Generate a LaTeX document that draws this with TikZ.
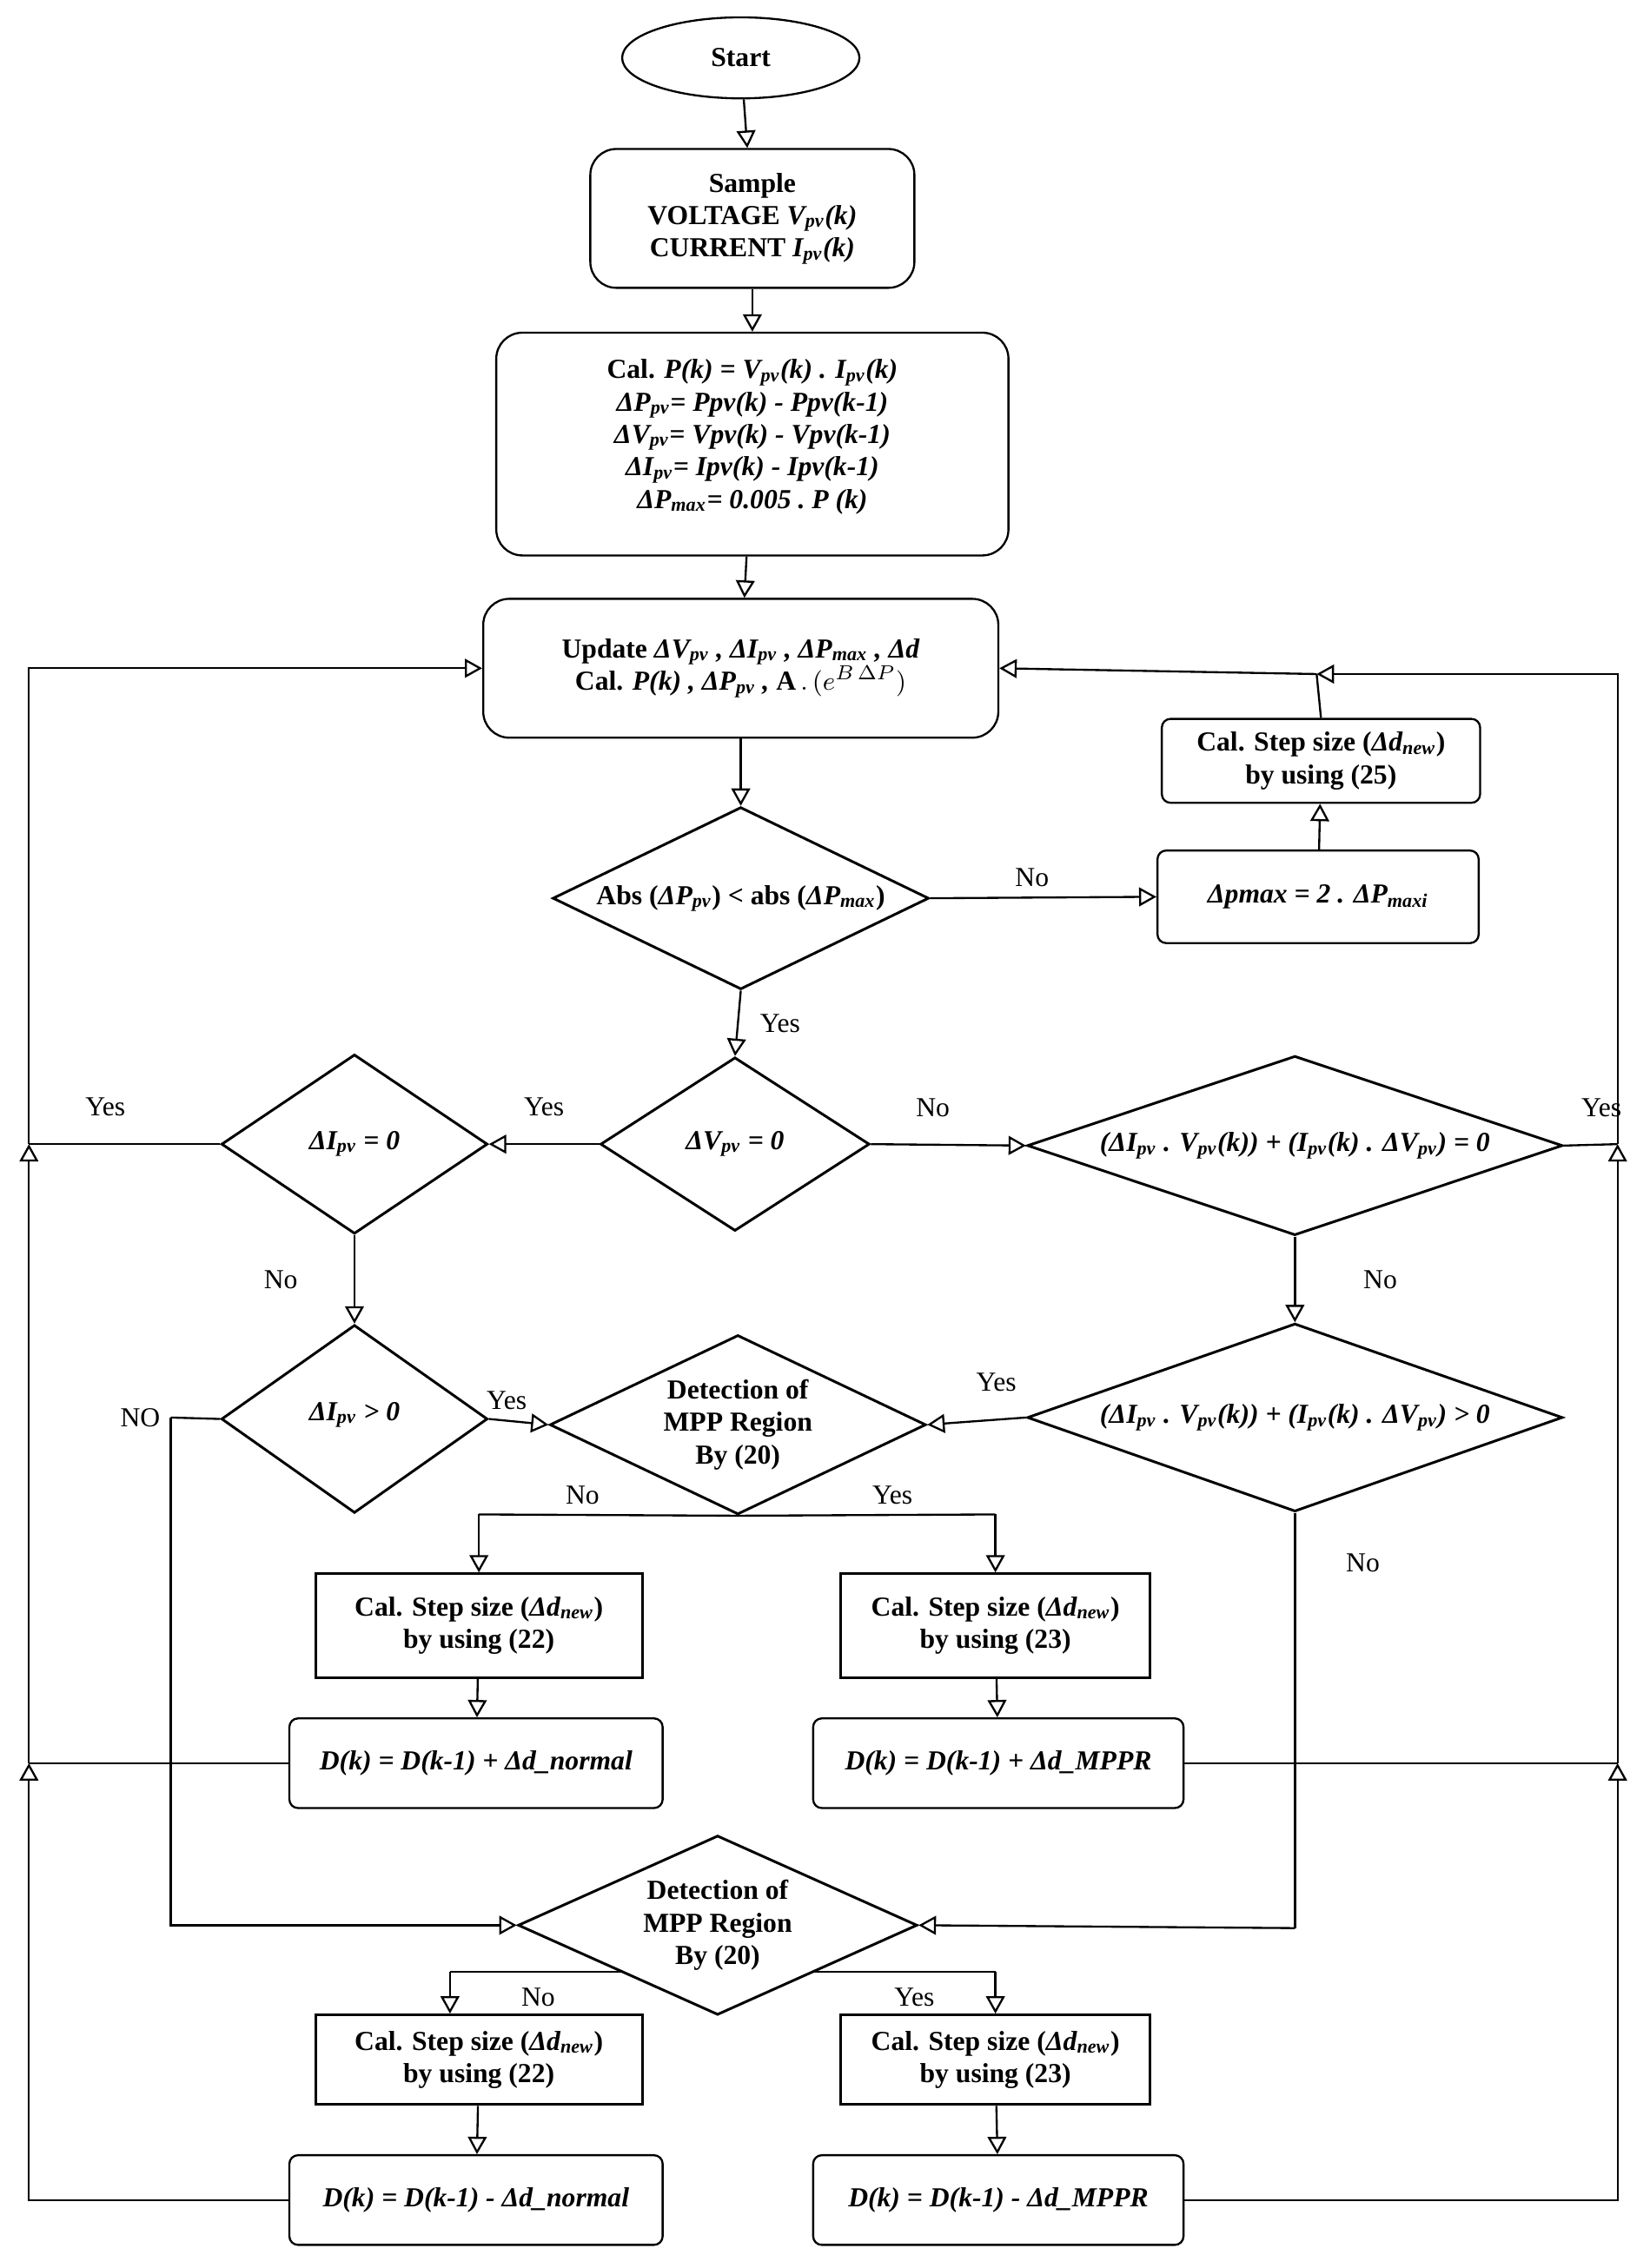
\documentclass[tikz,border=0pt]{standalone}
\usepackage{fontspec}
\setmainfont{Liberation Serif}
\usetikzlibrary{shapes.geometric,arrows.meta}
\newcommand\sbs[1]{\textsubscript{\textit{#1}}}
\begin{document}
\begin{tikzpicture}[x=0.5pt,y=-0.5pt,
  every node/.style={font=\fontsize{9.5}{11.2}\selectfont\bfseries, align=center},
  lbl/.style={font=\fontsize{9.5}{11}\selectfont},
  rbox/.style={draw, line width=0.7pt, rounded corners=9pt},
  sbox/.style={draw, line width=0.7pt, rounded corners=3pt},
  pbox/.style={draw, line width=0.9pt},
  dia/.style={draw, diamond, line width=0.9pt, inner sep=0pt},
  ln/.style={line width=0.7pt},
  arr/.style={line width=0.7pt, -{Triangle[open,length=6pt,width=6.5pt]}}]
\useasboundingbox (0,0) rectangle (1140,1568);
% nodes
\node[draw, ellipse, line width=0.7pt, minimum width=82pt, minimum height=28pt] (start) at (512,40) {Start};
\node[rbox, minimum width=112pt, minimum height=48pt] (sample) at (520,151) {Sample\\VOLTAGE \textit{V\sbs{pv}(k)}\\CURRENT \textit{I\sbs{pv}(k)}};
\node[rbox, minimum width=177pt, minimum height=77pt] (cal) at (520,307) {};
\node (calt) at (520,302) {Cal. \textit{P(k) = V\sbs{pv}(k) . I\sbs{pv}(k)}\\ \textit{ΔP\sbs{pv}= Ppv(k) - Ppv(k-1)}\\ \textit{ΔV\sbs{pv}= Vpv(k) - Vpv(k-1)}\\ \textit{ΔI\sbs{pv}= Ipv(k) - Ipv(k-1)}\\ \textit{ΔP\sbs{max}= 0.005 .\ P (k)}};
\node[rbox, minimum width=178pt, minimum height=48pt] (upd) at (512,462) {Update \textit{ΔV\sbs{pv} , ΔI\sbs{pv} , ΔP\sbs{max} , Δd}\\ Cal. \textit{P(k) , ΔP\sbs{pv} ,} $\mathbf{A}\,.\,(e^{B\,\Delta P})$};
\node[sbox, minimum width=110pt, minimum height=29pt] (s25) at (913,526) {Cal. Step size (\textit{Δd\sbs{new}})\\by using (25)};
\node[sbox, minimum width=111pt, minimum height=32pt] (pmax) at (911,620) {\textit{Δpmax = 2 . ΔP\sbs{maxi}}};
\node[dia, minimum width=130pt, minimum height=63pt] (abs) at (512,621) {};
\node (abst) at (512,621) {Abs (\textit{ΔP\sbs{pv}}) <\ abs (\textit{ΔP\sbs{max}})};
\node[dia, minimum width=93pt, minimum height=60pt] (dv) at (508,791) {};
\node (dvt) at (508,791) {\textit{ΔV\sbs{pv}\ = 0}};
\node[dia, minimum width=92pt, minimum height=62pt] (di0) at (245,791) {};
\node (di0t) at (245,791) {\textit{ΔI\sbs{pv} = 0}};
\node[dia, minimum width=185pt, minimum height=62pt] (bd1) at (895,792) {};
\node (bd1t) at (895,792) {\textit{(ΔI\sbs{pv} . V\sbs{pv}(k)) +\ (I\sbs{pv}(k) . ΔV\sbs{pv}) = 0}};
\node[dia, minimum width=92pt, minimum height=65pt] (dip) at (245,981) {};
\node (dipt) at (245,978) {\textit{ΔI\sbs{pv} > 0}};
\node[dia, minimum width=130pt, minimum height=62pt] (det1) at (510,985) {};
\node (det1t) at (510,985) {Detection of\\MPP Region\\By (20)};
\node[dia, minimum width=185pt, minimum height=65pt] (bd2) at (895,980) {};
\node (bd2t) at (895,980) {\textit{(ΔI\sbs{pv}\ . V\sbs{pv}(k)) +\ (I\sbs{pv}(k) . ΔV\sbs{pv}) > 0}};
\node[pbox, minimum width=113pt, minimum height=36pt] (a22) at (331,1124) {Cal. Step size (\textit{Δd\sbs{new}})\\by using (22)};
\node[pbox, minimum width=107pt, minimum height=36pt] (a23) at (688,1124) {Cal. Step size (\textit{Δd\sbs{new}})\\by using (23)};
\node[sbox, minimum width=129pt, minimum height=31pt] (dn1) at (329,1219) {\textit{D(k) =\ D(k-1) +\ Δd\_normal}};
\node[sbox, minimum width=128pt, minimum height=31pt] (dm1) at (690,1219) {\textit{D(k) = D(k-1) +\ Δd\_MPPR}};
\node[dia, minimum width=138pt, minimum height=62pt] (det2) at (496,1331) {};
\node (det2t) at (496,1331) {Detection of\\MPP Region\\By (20)};
\node[pbox, minimum width=113pt, minimum height=31pt] (b22) at (331,1424) {Cal. Step size (\textit{Δd\sbs{new}})\\by using (22)};
\node[pbox, minimum width=107pt, minimum height=31pt] (b23) at (688,1424) {Cal. Step size (\textit{Δd\sbs{new}})\\by using (23)};
\node[sbox, minimum width=129pt, minimum height=31pt] (dn2) at (329,1521) {\textit{D(k) =\ D(k-1) - Δd\_normal}};
\node[sbox, minimum width=128pt, minimum height=31pt] (dm2) at (690,1521) {\textit{D(k) = D(k-1) - Δd\_MPPR}};
% coordinates
\coordinate (L1) at (20,791);
\coordinate (L2) at (20,1219);
\coordinate (R1) at (1118,791);
\coordinate (R2) at (1118,1219);
\coordinate (R0) at (910,466);
\coordinate (N1) at (118,980);
\coordinate (N2) at (118,1333);
\coordinate (M1) at (895,1333);
\coordinate (E1) at (331,1047);
\coordinate (E2) at (688,1047);
\coordinate (F0) at (431,1363);
\coordinate (F1) at (311,1363);
\coordinate (G0) at (561,1363);
\coordinate (G1) at (688,1363);
% connectors
\draw[arr] (start) -- (sample);
\draw[arr] (sample) -- (cal);
\draw[arr] (cal) -- (upd);
\draw[arr] (upd) -- (abs.north);
\draw[arr] (abs.east) -- node[lbl, above, pos=0.45] {No} (pmax.west);
\draw[arr] (pmax) -- (s25);
\draw[ln] (s25.north) -- (R0);
\draw[arr] (R0) -- (upd.east);
\draw[arr] (abs.south) -- node[lbl, right, xshift=4pt] {Yes} (dv.north);
\draw[arr] (dv.west) -- node[lbl, above, yshift=6pt] {Yes} (di0.east);
\draw[arr] (dv.east) -- node[lbl, above, yshift=6pt, pos=0.4] {No} (bd1.west);
\draw[ln] (di0.west) -- node[lbl, above, yshift=6pt, pos=0.6] {Yes} (L1);
\draw[arr] (L1) |- (upd.west);
\draw[ln] (bd1.east) -- node[lbl, above, yshift=6pt, pos=0.7] {Yes} (R1);
\draw[arr] (R1) |- (R0);
\draw[arr] (di0.south) -- node[lbl, left, xshift=-16pt] {No} (dip.north);
\draw[arr] (bd1.south) -- node[lbl, right, xshift=20pt] {No} (bd2.north);
\draw[arr] (dip.east) -- node[lbl, above, pos=0.3] {Yes} (det1.west);
\draw[arr] (bd2.west) -- node[lbl, above, yshift=6pt, pos=0.3] {Yes} (det1.east);
\draw[ln] (dip.west) -- node[lbl, left, pos=1] {NO} (N1);
\draw[arr] (N1) |- (det2.west);
\draw[ln] (bd2.south) -- node[lbl, right, pos=0.12, xshift=14pt] {No} (M1);
\draw[arr] (M1) -- (det2.east);
\draw[ln] (E1) -- node[lbl, above, pos=0.4] {No} (det1.south) -- node[lbl, above, pos=0.6] {Yes} (E2);
\draw[arr] (E1) -- (a22);
\draw[arr] (E2) -- (a23);
\draw[arr] (a22) -- (dn1);
\draw[arr] (a23) -- (dm1);
\draw[ln] (F0) -- (F1);
\draw[arr] (F1) -- (F1 |- b22.north);
\draw[ln] (G0) -- (G1);
\draw[arr] (G1) -- (b23.north);
\node[lbl] (no3) at (372,1381) {No};
\node[lbl] (yes3) at (632,1381) {Yes};
\draw[arr] (b22) -- (dn2);
\draw[arr] (b23) -- (dm2);
\draw[ln] (dn1.west) -- (L2);
\draw[arr] (dn2.west) -| (L2);
\draw[arr] (L2) -- (L1);
\draw[ln] (dm1.east) -- (R2);
\draw[arr] (dm2.east) -| (R2);
\draw[arr] (R2) -- (R1);
\end{tikzpicture}
\end{document}
